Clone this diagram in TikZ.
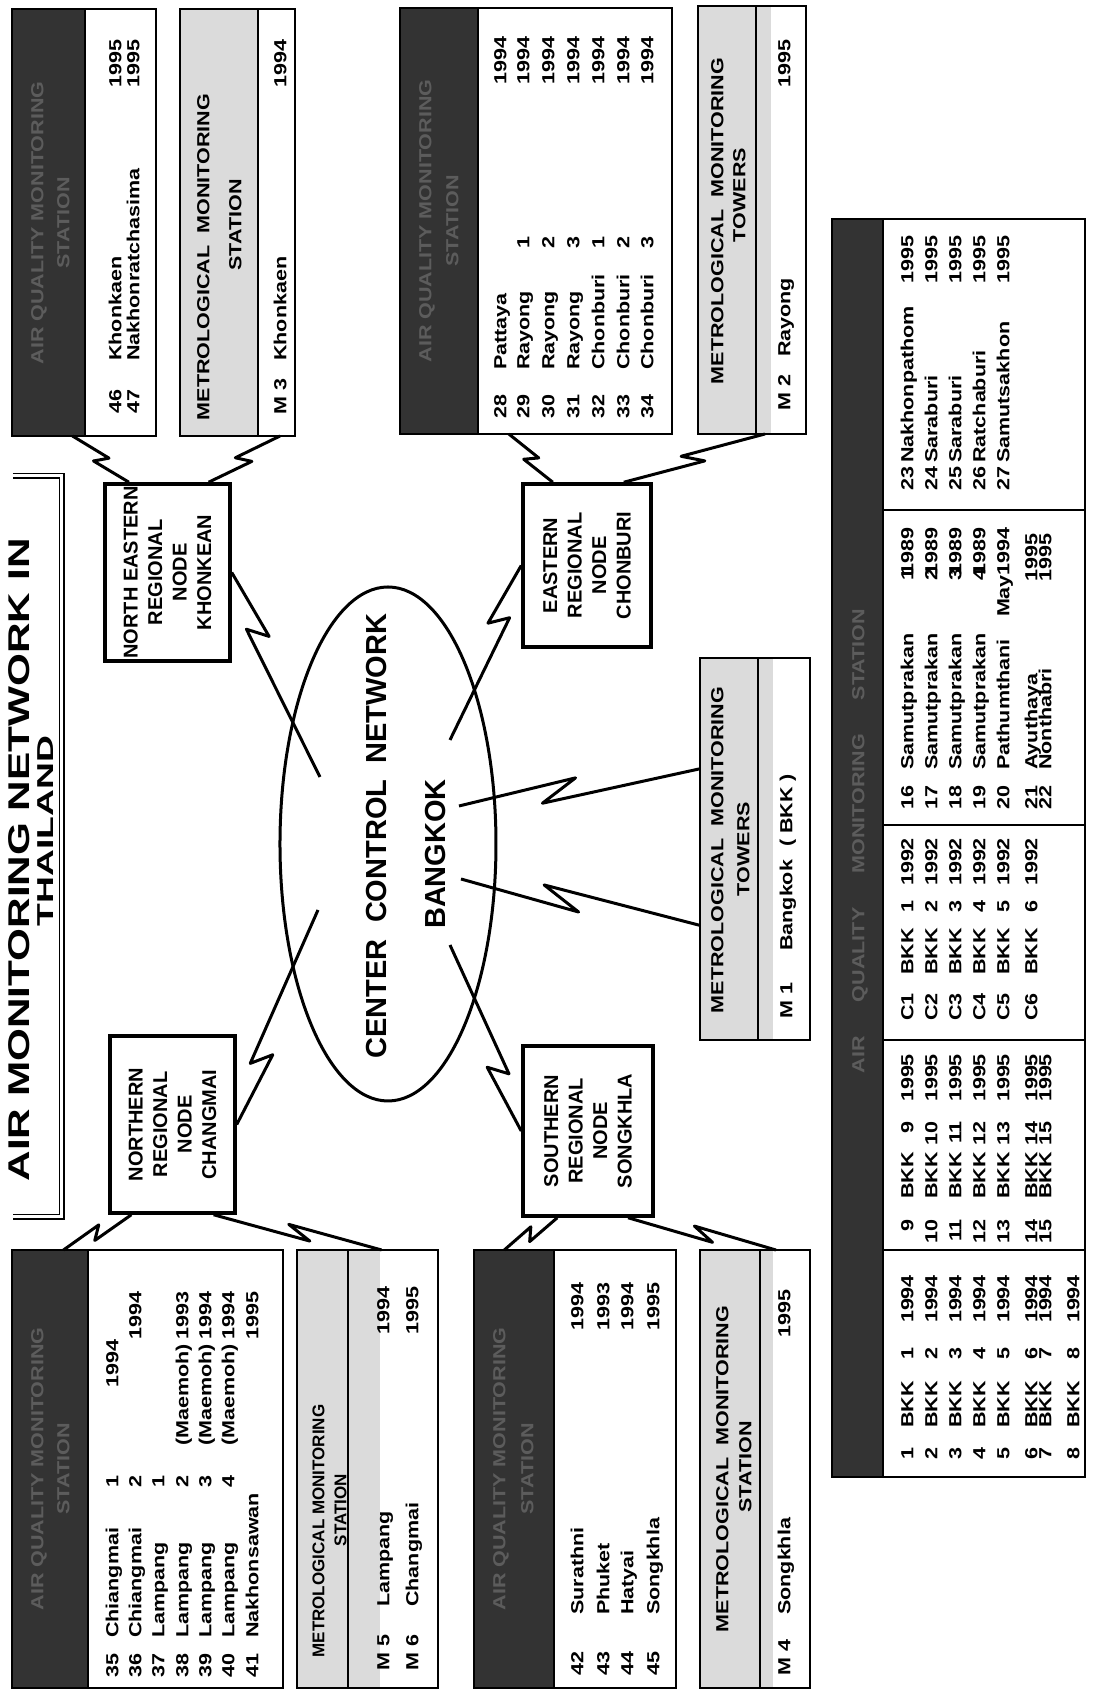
\documentclass[tikz,border=0pt]{standalone}
\usepackage{fontspec}
\setmainfont{Liberation Sans}
\newfontfamily\widefont{Liberation Sans}[FakeStretch=1.23]
\newfontfamily\titlefont{Liberation Sans}[FakeStretch=1.41]
\newfontfamily\subtitlefont{Liberation Sans}[FakeStretch=1.62]
\usetikzlibrary{calc, shapes.geometric}
\definecolor{headdark}{gray}{0.2}
\definecolor{headtext}{gray}{0.36}
\definecolor{headlight}{gray}{0.86}
\newcommand\bolt[7]{\draw[link] (#1) -- ($(#1)!#3!(#2)!#7!#5:(#2)$) -- ($(#1)!#4!(#2)!#7!#6:(#2)$) -- (#2);}

\begin{document}
\begin{tikzpicture}[x=1pt, y=1pt, rotate=90, transform shape,
  box/.style={draw, line width=2pt, inner sep=0pt, outer sep=0pt, anchor=south west},
  region/.style={draw, line width=3.5pt, inner sep=0pt, align=center, font=\bfseries\fontsize{20}{24.5}\selectfont},
  cell/.style={inner sep=0pt, text height=12.6pt, text depth=0pt, font=\widefont\bfseries\fontsize{17.5}{20}\selectfont},
  headcell/.style={cell, text=headtext},
  link/.style={line width=3pt, line join=round},
  rule/.style={line width=2pt}]
  \path[use as bounding box] (0,0) rectangle (1691,1095);

  \node[font=\titlefont\bfseries\fontsize{30}{30}\selectfont, inner sep=0pt, text height=21.5pt, text depth=0pt] (titleA) at (831,1076) {AIR MONITORING NETWORK IN};
  \node[font=\subtitlefont\bfseries\fontsize{23}{23}\selectfont, inner sep=0pt, text height=16.5pt, text depth=0pt] (titleB) at (860,1050) {THAILAND};
  \draw[double, double distance=3pt, line width=1.2pt] (1215,1082) -- (1215,1033) -- (474,1033) -- (474,1082);

  \fill[headdark] (1255,1010) rectangle (1682,1083);
  \node[box, minimum width=427pt, minimum height=144pt] (aqNE) at (1255,939) {};
  \draw[rule] (1255,1010) -- (1682,1010);
  \node[headcell] (aqNEh1) at (1468,1058) {AIR QUALITY MONITORING};
  \node[headcell] (aqNEh2) at (1468,1032) {STATION};
  \foreach \pos/\num/\place in {980/46/Khonkaen, 962/47/Nakhonratchasima}{
    \node[cell, anchor=west] (aqNEn\num) at (1277,\pos) {\num};
    \node[cell, anchor=west] (aqNEp\num) at (1330,\pos) {\place};
    \node[cell, anchor=east] (aqNEy\num) at (1652,\pos) {1995};
  }

  \fill[headlight] (1255,837) rectangle (1682,915);
  \node[box, minimum width=427pt, minimum height=115pt] (metNE) at (1255,800) {};
  \draw[rule] (1255,837) -- (1682,837);
  \node[cell] (metNEh1) at (1434,892) {METROLOGICAL\ \ MONITORING};
  \node[cell] (metNEh2) at (1466,860) {STATION};
  \node[cell, anchor=west] (metNEn) at (1276,815) {M 3};
  \node[cell, anchor=west] (metNEp) at (1330,815) {Khonkaen};
  \node[cell, anchor=east] (metNEy) at (1652,815) {1994};

  \fill[headdark] (1257,617) rectangle (1683,695);
  \node[box, minimum width=426pt, minimum height=272pt] (aqE) at (1257,423) {};
  \draw[rule] (1257,617) -- (1683,617);
  \node[headcell] (aqEh1) at (1470,670) {AIR QUALITY MONITORING};
  \node[headcell] (aqEh2) at (1470,643) {STATION};
  \foreach \pos/\num/\place/\idx in {595/28/Pattaya/, 572/29/Rayong/1, 547/30/Rayong/2, 522/31/Rayong/3, 497/32/Chonburi/1, 472/33/Chonburi/2, 448/34/Chonburi/3}{
    \node[cell, anchor=west] (aqEn\num) at (1272,\pos) {\num};
    \node[cell, anchor=west] (aqEp\num) at (1321,\pos) {\place};
    \node[cell] (aqEi\num) at (1448,\pos) {\idx};
    \node[cell, anchor=east] (aqEy\num) at (1655,\pos) {1994};
  }

  \fill[headlight] (1257,324) rectangle (1685,397);
  \node[box, minimum width=428pt, minimum height=108pt] (metE) at (1257,289) {};
  \draw[rule] (1257,339) -- (1685,339);
  \node[cell] (metEh1) at (1470,378) {METROLOGICAL\ \ MONITORING};
  \node[cell] (metEh2) at (1496,356) {TOWERS};
  \node[cell, anchor=west] (metEn) at (1280,311) {M 2};
  \node[cell, anchor=west] (metEp) at (1334,311) {Rayong};
  \node[cell, anchor=east] (metEy) at (1652,311) {1995};

  \fill[headlight] (651,322) rectangle (1033,395);
  \node[box, minimum width=382pt, minimum height=110pt] (metBKK) at (651,285) {};
  \draw[rule] (651,337) -- (1033,337);
  \node[cell] (metBKKh1) at (841,378) {METROLOGICAL\ \ MONITORING};
  \node[cell] (metBKKh2) at (842,352) {TOWERS};
  \node[cell, anchor=west] (metBKKn) at (672,309) {M 1};
  \node[cell, anchor=west] (metBKKp) at (740,309) {Bangkok};
  \node[cell, anchor=west] (metBKKc) at (844,309) {( BKK )};

  \fill[headdark] (3,1007) rectangle (441,1083);
  \node[box, minimum width=438pt, minimum height=271pt] (aqN) at (3,812) {};
  \draw[rule] (3,1007) -- (441,1007);
  \node[headcell] (aqNh1) at (222,1058) {AIR QUALITY MONITORING};
  \node[headcell] (aqNh2) at (222,1032) {STATION};
  \foreach \pos/\num/\place/\idx in {983/35/Chiangmai/1, 960/36/Chiangmai/2, 937/37/Lampang/1, 913/38/Lampang/2, 890/39/Lampang/3, 867/40/Lampang/4, 843/41/Nakhonsawan/}{
    \node[cell, anchor=west] (aqNn\num) at (13,\pos) {\num};
    \node[cell, anchor=west] (aqNp\num) at (53,\pos) {\place};
    \node[cell] (aqNi\num) at (209,\pos) {\idx};
  }
  \foreach \pos/\num in {913/38, 890/39, 867/40}
    \node[cell, anchor=west] (aqNm\num) at (245,\pos) {(Maemoh)};
  \node[cell, anchor=east] (aqNy35) at (352,983) {1994};
  \foreach \pos/\num/\yr in {960/36/1994, 913/38/1993, 890/39/1994, 867/40/1994, 843/41/1995}
    \node[cell, anchor=east] (aqNy\num) at (400,\pos) {\yr};

  \fill[headlight] (3,715) rectangle (441,798);
  \node[box, minimum width=438pt, minimum height=141pt] (metN) at (3,657) {};
  \draw[rule] (3,747) -- (441,747);
  \node[cell, font=\bfseries\fontsize{17}{20}\selectfont] (metNh1) at (160,777) {METROLOGICAL MONITORING};
  \node[cell, font=\bfseries\fontsize{17}{20}\selectfont] (metNh2) at (181,755) {STATION};
  \foreach \pos/\num/\place/\yr in {712/5/Lampang/1994, 683/6/Changmai/1995}{
    \node[cell, anchor=west] (metNn\num) at (20,\pos) {M \num};
    \node[cell, anchor=west] (metNp\num) at (84,\pos) {\place};
    \node[cell, anchor=east] (metNy\num) at (405,\pos) {\yr};
  }

  \fill[headdark] (3,541) rectangle (441,621);
  \node[box, minimum width=438pt, minimum height=202pt] (aqS) at (3,419) {};
  \draw[rule] (3,541) -- (441,541);
  \node[headcell] (aqSh1) at (222,596) {AIR QUALITY MONITORING};
  \node[headcell] (aqSh2) at (222,568) {STATION};
  \foreach \pos/\num/\place/\yr in {518/42/Surathni/1994, 492/43/Phuket/1993, 468/44/Hatyai/1994, 442/45/Songkhla/1995}{
    \node[cell, anchor=west] (aqSn\num) at (15,\pos) {\num};
    \node[cell, anchor=west] (aqSp\num) at (76,\pos) {\place};
    \node[cell, anchor=east] (aqSy\num) at (409,\pos) {\yr};
  }

  \fill[headlight] (3,322) rectangle (441,395);
  \node[box, minimum width=438pt, minimum height=110pt] (metS) at (3,285) {};
  \draw[rule] (3,335) -- (441,335);
  \node[cell] (metSh1) at (222,373) {METROLOGICAL\ \ MONITORING};
  \node[cell] (metSh2) at (224,350) {STATION};
  \node[cell, anchor=west] (metSn) at (15,311) {M 4};
  \node[cell, anchor=west] (metSp) at (76,311) {Songkhla};
  \node[cell, anchor=east] (metSy) at (402,311) {1995};

  \fill[headdark] (214,212) rectangle (1472,263);
  \node[box, minimum width=1258pt, minimum height=253pt] (aqBKK) at (214,10) {};
  \draw[rule] (214,212) -- (1472,212);
  \foreach \u in {441,651,866,1181}
    \draw[rule] (\u,10) -- (\u,212);
  \node[headcell] (aqBKKh) at (850,237) {AIR\hspace{34pt}QUALITY\hspace{34pt}MONITORING\hspace{34pt}STATION};
  \foreach \pos/\num in {188/1, 164/2, 140/3, 116/4, 92/5, 64/6, 50/7, 22/8}{
    \node[cell] (sAn\num) at (237,\pos) {\num};
    \node[cell, anchor=west] (sAb\num) at (263,\pos) {BKK};
    \node[cell] (sAi\num) at (337,\pos) {\num};
    \node[cell] (sAy\num) at (392,\pos) {1994};
  }
  \foreach \pos/\num in {188/9, 164/10, 140/11, 116/12, 92/13, 64/14, 50/15}{
    \node[cell, anchor=east] (sBn\num) at (472,\pos) {\num};
    \node[cell, anchor=west] (sBb\num) at (492,\pos) {BKK};
    \node[cell, anchor=east] (sBi\num) at (570,\pos) {\num};
    \node[cell] (sBy\num) at (613,\pos) {1995};
  }
  \foreach \pos/\num in {188/1, 164/2, 140/3, 116/4, 92/5, 64/6}{
    \node[cell, anchor=west] (sCn\num) at (670,\pos) {C\num};
    \node[cell, anchor=west] (sCb\num) at (716,\pos) {BKK};
    \node[cell] (sCi\num) at (784,\pos) {\num};
    \node[cell] (sCy\num) at (829,\pos) {1992};
  }
  \foreach \pos/\num/\place/\idx/\yr in {188/16/Samutprakan/1/1989, 164/17/Samutprakan/2/1989, 140/18/Samutprakan/3/1989, 116/19/Samutprakan/4/1989, 92/20/Pathumthani//May1994}{
    \node[cell, anchor=west] (sDn\num) at (881,\pos) {\num};
    \node[cell, anchor=west] (sDp\num) at (921,\pos) {\place};
    \node[cell] (sDi\num) at (1116,\pos) {\idx};
    \node[cell, anchor=east] (sDy\num) at (1164,\pos) {\yr};
  }
  \foreach \pos/\num/\place in {64/21/Ayuthaya, 50/22/Nonthabri}{
    \node[cell, anchor=west] (sDn\num) at (881,\pos) {\num};
    \node[cell, anchor=west] (sDp\num) at (921,\pos) {\place};
    \node[cell, anchor=east] (sDy\num) at (1158,\pos) {1995};
  }
  \foreach \pos/\num/\place in {188/23/Nakhonpathom, 164/24/Saraburi, 140/25/Saraburi, 116/26/Ratchaburi, 92/27/Samutsakhon}{
    \node[cell, anchor=west] (sEn\num) at (1200,\pos) {\num};
    \node[cell, anchor=west] (sEp\num) at (1228,\pos) {\place};
    \node[cell, anchor=east] (sEy\num) at (1456,\pos) {1995};
  }

  \node[draw, ellipse, line width=3pt, minimum width=514pt, minimum height=216pt, inner sep=0pt] (ccn) at (847,707) {};
  \node[font=\bfseries\fontsize{29}{30}\selectfont, inner sep=0pt] (ccnA) at (855,718) {CENTER\ \ CONTROL\ \ NETWORK};
  \node[font=\bfseries\fontsize{29}{30}\selectfont, inner sep=0pt] (ccnB) at (837,659) {BANGKOK};

  \node[region, minimum width=177pt, minimum height=125pt] (nodeNE) at (1118.5,927.5) {NORTH EASTERN\\REGIONAL\\NODE\\KHONKEAN};
  \node[region, minimum width=177pt, minimum height=125pt] (nodeN) at (566.5,922.5) {NORTHERN\\REGIONAL\\NODE\\CHANGMAI};
  \node[region, minimum width=163pt, minimum height=128pt] (nodeE) at (1125.5,508) {EASTERN\\REGIONAL\\NODE\\CHONBURI};
  \node[region, minimum width=170pt, minimum height=130pt] (nodeS) at (560,507) {SOUTHERN\\REGIONAL\\NODE\\SONGKHLA};

  \coordinate (cNE) at (914,775);
  \coordinate (cN) at (781,777);
  \coordinate (cE) at (951,645);
  \coordinate (cS) at (746,645);
  \coordinate (cBa) at (885,636);
  \coordinate (cBb) at (812,634);
  \coordinate (aqNEo) at ($(aqNE.south west)!0.58!(aqNE.north west)$);
  \coordinate (metNEo) at ($(metNE.south west)!0.13!(metNE.north west)$);
  \coordinate (aqEo) at ($(aqE.south west)!0.6!(aqE.north west)$);
  \coordinate (metEo) at ($(metE.south west)!0.38!(metE.north west)$);
  \coordinate (aqNo) at ($(aqN.south east)!0.81!(aqN.north east)$);
  \coordinate (metNo) at ($(metN.south east)!0.4!(metN.north east)$);
  \coordinate (aqSo) at ($(aqS.south east)!0.85!(aqS.north east)$);
  \coordinate (metSo) at ($(metS.south east)!0.31!(metS.north east)$);
  \coordinate (metBKKa) at ($(metBKK.north west)!0.71!(metBKK.north east)$);
  \coordinate (metBKKb) at ($(metBKK.north west)!0.3!(metBKK.north east)$);
  \coordinate (nodeNEa) at ($(nodeNE.south east)!0.8!(nodeNE.north east)$);
  \coordinate (nodeNEb) at ($(nodeNE.south east)!0.18!(nodeNE.north east)$);
  \coordinate (nodeEa) at ($(nodeE.south east)!0.76!(nodeE.north east)$);
  \coordinate (nodeEb) at ($(nodeE.south east)!0.22!(nodeE.north east)$);
  \coordinate (nodeNa) at ($(nodeN.south west)!0.82!(nodeN.north west)$);
  \coordinate (nodeNb) at ($(nodeN.south west)!0.18!(nodeN.north west)$);
  \coordinate (nodeSa) at ($(nodeS.south west)!0.73!(nodeS.north west)$);
  \coordinate (nodeSb) at ($(nodeS.south west)!0.2!(nodeS.north west)$);

  \bolt{aqNEo}{nodeNEa}{0.58}{0.44}{90}{-90}{6pt}
  \bolt{metNEo}{nodeNEb}{0.58}{0.44}{-90}{90}{6pt}
  \bolt{aqEo}{nodeEa}{0.58}{0.44}{90}{-90}{6pt}
  \bolt{metEo}{nodeEb}{0.58}{0.44}{-90}{90}{6pt}
  \bolt{nodeNa}{aqNo}{0.58}{0.44}{90}{-90}{6pt}
  \bolt{nodeNb}{metNo}{0.58}{0.44}{-90}{90}{6pt}
  \bolt{nodeSa}{aqSo}{0.58}{0.44}{90}{-90}{6pt}
  \bolt{nodeSb}{metSo}{0.58}{0.44}{-90}{90}{6pt}
  \bolt{nodeNE.south}{cNE}{0.33}{0.26}{90}{-90}{9pt}
  \bolt{nodeN.south}{cN}{0.34}{0.27}{-90}{90}{9pt}
  \bolt{nodeE.north}{cE}{0.35}{0.28}{-90}{90}{9pt}
  \bolt{nodeS.north}{cS}{0.36}{0.29}{90}{-90}{9pt}
  \bolt{metBKKa}{cBa}{0.66}{0.51}{90}{-90}{10pt}
  \bolt{metBKKb}{cBb}{0.66}{0.5}{-90}{90}{10pt}
\end{tikzpicture}
\end{document}
